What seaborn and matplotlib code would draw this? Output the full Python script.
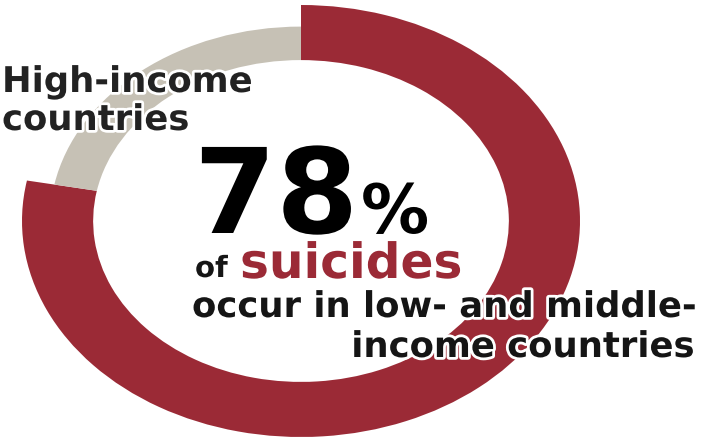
import matplotlib
matplotlib.use("Agg")
import matplotlib.pyplot as plt
import matplotlib.patheffects as pe
import seaborn as sns

# Share of suicides by country income group (%)
groups = ["Low- and middle-income countries", "High-income countries"]
shares = [78, 22]
ring_colors = ["#9b2a36", "#c6c1b5"]

headline_value = "78"
side_label = ["High-income", "countries"]
caption_lines = ["occur in low- and middle-", "income countries"]

sns.set_theme(style="white")
plt.rcParams["font.family"] = ["DejaVu Sans"]

W, H = 725, 441
fig = plt.figure(figsize=(W / 100, H / 100), dpi=100)
fig.patch.set_facecolor("white")
ax = fig.add_axes([22 / W, 4 / H, 558 / W, 432 / H])

# Majority share: thick outer ring
w_major, _ = ax.pie(shares, radius=1.0, startangle=90, counterclock=False,
                    colors=ring_colors, wedgeprops=dict(width=0.255, linewidth=0))
w_major[1].set_visible(False)
# Minority share: thinner ring sharing the same inner edge
w_minor, _ = ax.pie(shares, radius=0.90, startangle=90, counterclock=False,
                    colors=ring_colors, wedgeprops=dict(width=0.155, linewidth=0))
w_minor[0].set_visible(False)

ax.set_aspect("auto")
ax.set_xlim(-1, 1)
ax.set_ylim(-1, 1)
ax.axis("off")

halo = [pe.withStroke(linewidth=4, foreground="white")]
ink = "#151515"


def put(x, y, s, **kw):
    fig.text(x / W, 1 - y / H, s, va="baseline", fontweight="bold",
             path_effects=halo, **kw)


put(2, 92, side_label[0], fontsize=25.5, color="#222222")
put(2, 130, side_label[1], fontsize=25.5, color="#222222")

put(194, 233, headline_value, fontsize=85, color="black")
put(361, 233, "%", fontsize=49, color="black")

put(195, 277, "of", fontsize=21, color=ink)
put(240, 278, "suicides", fontsize=35, color=ring_colors[0])

put(192, 317, caption_lines[0], fontsize=25.5, color=ink)
put(694, 357, caption_lines[1], fontsize=25.5, color=ink, ha="right")

fig.savefig("out.png", dpi=100)
